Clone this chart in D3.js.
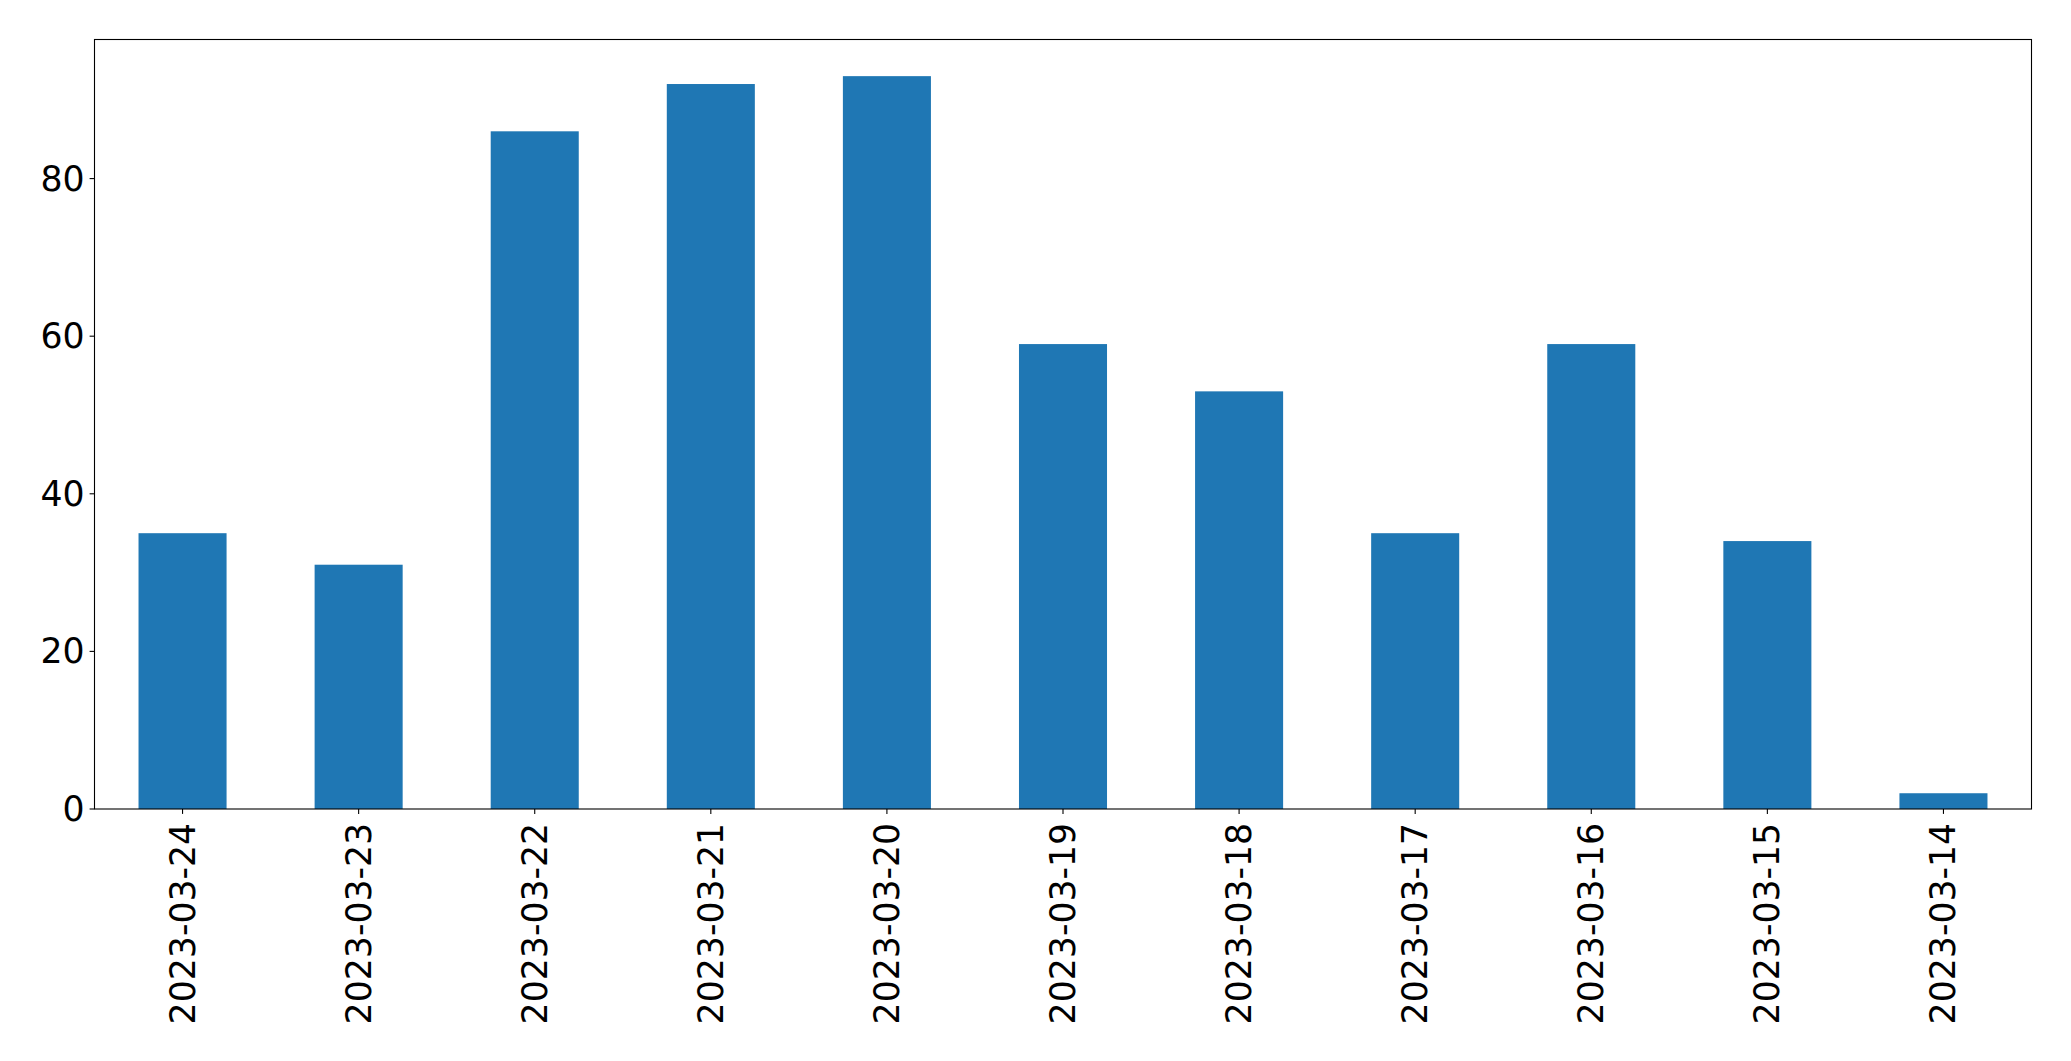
<!DOCTYPE html>
<html>
<head>
<meta charset="utf-8">
<script src="https://cdn.jsdelivr.net/npm/d3@7"></script>
<style>
  html, body { margin: 0; padding: 0; background: #fff; }
  svg { display: block; }
  text { font-family: "DejaVu Sans", sans-serif; }
</style>
</head>
<body>
<svg id="chart" width="2071" height="1061"></svg>
<script>
const categories = ["2023-03-24","2023-03-23","2023-03-22","2023-03-21","2023-03-20","2023-03-19","2023-03-18","2023-03-17","2023-03-16","2023-03-15","2023-03-14"];
const values = [35, 31, 86, 92, 93, 59, 53, 35, 59, 34, 2];
const yTicks = [0, 20, 40, 60, 80];

const m = { left: 94.5, right: 2031.5, top: 39.5, bottom: 809 };
const svg = d3.select("#chart");

const n = categories.length;
// matplotlib bar positions: indices 0..n-1, width 0.5, x range [-0.5, n-0.5]
const x = d3.scaleLinear().domain([-0.5, n - 0.5]).range([m.left, m.right]);
const yMax = d3.max(values) * 1.05;
const y = d3.scaleLinear().domain([0, yMax]).range([m.bottom, m.top]);

const fontSize = 34.7;
const tickLen = 4.9;
const pad = 4.9;

// bars
svg.append("g").selectAll("rect").data(values).join("rect")
  .attr("x", (d, i) => x(i - 0.25))
  .attr("width", (d, i) => x(i + 0.25) - x(i - 0.25))
  .attr("y", d => y(d))
  .attr("height", d => y(0) - y(d))
  .attr("fill", "#1f77b4");

// frame
svg.append("rect")
  .attr("x", m.left).attr("y", m.top)
  .attr("width", m.right - m.left).attr("height", m.bottom - m.top)
  .attr("fill", "none").attr("stroke", "#000").attr("stroke-width", 1.1);

// y axis ticks
const yg = svg.append("g");
yg.selectAll("line").data(yTicks).join("line")
  .attr("x1", m.left - tickLen).attr("x2", m.left)
  .attr("y1", d => y(d)).attr("y2", d => y(d))
  .attr("stroke", "#000").attr("stroke-width", 1.1);
yg.selectAll("text").data(yTicks).join("text")
  .attr("x", m.left - tickLen - pad)
  .attr("y", d => y(d))
  .attr("text-anchor", "end")
  .attr("dominant-baseline", "central")
  .attr("font-size", fontSize)
  .attr("fill", "#000")
  .text(d => d);

// x axis ticks
const xg = svg.append("g");
xg.selectAll("line").data(categories).join("line")
  .attr("x1", (d, i) => x(i)).attr("x2", (d, i) => x(i))
  .attr("y1", m.bottom).attr("y2", m.bottom + tickLen)
  .attr("stroke", "#000").attr("stroke-width", 1.1);
xg.selectAll("text").data(categories).join("text")
  .attr("transform", (d, i) => `translate(${x(i)},${m.bottom + tickLen + pad + 4}) rotate(-90)`)
  .attr("text-anchor", "end")
  .attr("dominant-baseline", "central")
  .attr("font-size", fontSize)
  .attr("fill", "#000")
  .text(d => d);
</script>
</body>
</html>
